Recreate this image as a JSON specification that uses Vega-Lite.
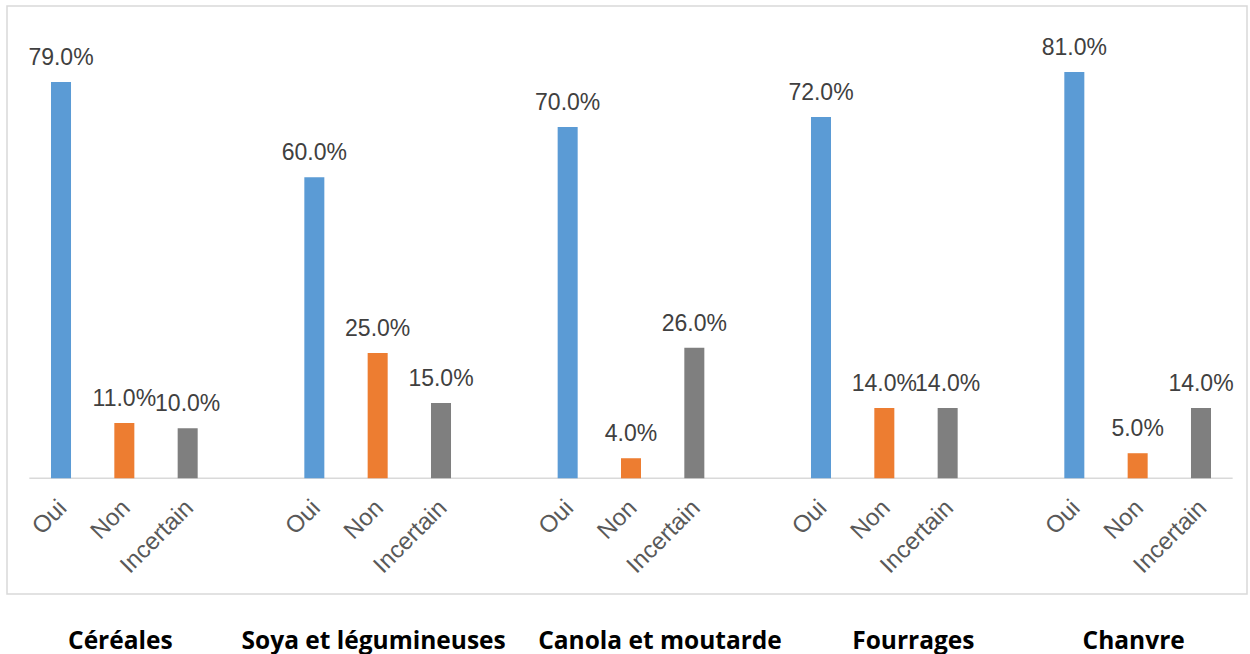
{
  "$schema": "https://vega.github.io/schema/vega-lite/v6.json",
  "width": 1240,
  "height": 588,
  "autosize": {"type": "none"},
  "padding": {"left": 7, "top": 6, "right": 3, "bottom": 60},
  "background": "#ffffff",
  "config": {
    "view": {"stroke": "#d9d9d9", "strokeWidth": 1.5},
    "font": "Liberation Sans"
  },
  "data": {
    "values": [
      {"groupe": "Céréales", "reponse": "Oui", "valeur": 0.79},
      {"groupe": "Céréales", "reponse": "Non", "valeur": 0.11},
      {"groupe": "Céréales", "reponse": "Incertain", "valeur": 0.10},
      {"groupe": "Soya et légumineuses", "reponse": "Oui", "valeur": 0.60},
      {"groupe": "Soya et légumineuses", "reponse": "Non", "valeur": 0.25},
      {"groupe": "Soya et légumineuses", "reponse": "Incertain", "valeur": 0.15},
      {"groupe": "Canola et moutarde", "reponse": "Oui", "valeur": 0.70},
      {"groupe": "Canola et moutarde", "reponse": "Non", "valeur": 0.04},
      {"groupe": "Canola et moutarde", "reponse": "Incertain", "valeur": 0.26},
      {"groupe": "Fourrages", "reponse": "Oui", "valeur": 0.72},
      {"groupe": "Fourrages", "reponse": "Non", "valeur": 0.14},
      {"groupe": "Fourrages", "reponse": "Incertain", "valeur": 0.14},
      {"groupe": "Chanvre", "reponse": "Oui", "valeur": 0.81},
      {"groupe": "Chanvre", "reponse": "Non", "valeur": 0.05},
      {"groupe": "Chanvre", "reponse": "Incertain", "valeur": 0.14}
    ]
  },
  "layer": [
    {
      "data": {"values": [{}]},
      "mark": {"type": "rule", "color": "#d9d9d9", "strokeWidth": 1.5},
      "encoding": {
        "x": {"datum": "Céréales", "type": "nominal", "bandPosition": 0},
        "x2": {"datum": "Chanvre", "bandPosition": 1},
        "y": {"datum": 0, "type": "quantitative", "scale": {"domain": [-0.2306, 0.9414], "nice": false, "zero": false}, "axis": null}
      }
    },
    {
      "mark": {"type": "bar"},
      "encoding": {
        "x": {
          "field": "groupe", "type": "nominal",
          "sort": ["Céréales", "Soya et légumineuses", "Canola et moutarde", "Fourrages", "Chanvre"],
          "scale": {"paddingInner": 0.25, "paddingOuter": 0.0724, "align": 0.609},
          "axis": {
            "title": null, "orient": "bottom", "domain": false, "ticks": false, "tickSize": 0,
            "labelAngle": 0, "labelAlign": "center", "labelFont": "Open Sans", "labelFontWeight": "bold", "labelFontSize": 24.5,
            "labelColor": "#000000", "labelPadding": 54, "labelBaseline": "alphabetic",
            "labelOffset": {"condition": {"test": "datum.value == 'Canola et moutarde' || datum.value == 'Fourrages'", "value": 29}, "value": -4},
            "labelOverlap": false, "labelLimit": 0, "grid": false
          }
        },
        "xOffset": {
          "field": "reponse", "type": "nominal", "sort": ["Oui", "Non", "Incertain"],
          "scale": {"paddingInner": 0.684, "paddingOuter": 0.342}
        },
        "y": {"field": "valeur", "type": "quantitative", "scale": {"domain": [-0.2306, 0.9414], "nice": false, "zero": false}, "axis": null},
        "color": {
          "field": "reponse", "type": "nominal",
          "scale": {"domain": ["Oui", "Non", "Incertain"], "range": ["#5B9BD5", "#ED7D31", "#7F7F7F"]},
          "legend": null
        }
      }
    },
    {
      "mark": {"type": "text", "font": "Liberation Sans", "fontSize": 23, "color": "#404040", "baseline": "alphabetic", "dy": -17, "align": "center"},
      "encoding": {
        "x": {"field": "groupe", "type": "nominal", "sort": ["Céréales", "Soya et légumineuses", "Canola et moutarde", "Fourrages", "Chanvre"]},
        "xOffset": {"field": "reponse", "type": "nominal", "sort": ["Oui", "Non", "Incertain"]},
        "y": {"field": "valeur", "type": "quantitative", "scale": {"domain": [-0.2306, 0.9414], "nice": false, "zero": false}, "axis": null},
        "text": {"field": "valeur", "type": "quantitative", "format": ".1%"}
      }
    },
    {
      "mark": {"type": "text", "font": "Liberation Sans", "fontSize": 24, "color": "#595959", "angle": 315, "align": "right", "baseline": "middle", "dx": -17, "dy": 20},
      "encoding": {
        "x": {"field": "groupe", "type": "nominal", "sort": ["Céréales", "Soya et légumineuses", "Canola et moutarde", "Fourrages", "Chanvre"]},
        "xOffset": {"field": "reponse", "type": "nominal", "sort": ["Oui", "Non", "Incertain"]},
        "y": {"datum": 0, "type": "quantitative", "scale": {"domain": [-0.2306, 0.9414], "nice": false, "zero": false}, "axis": null},
        "text": {"field": "reponse", "type": "nominal"}
      }
    }
  ]
}
